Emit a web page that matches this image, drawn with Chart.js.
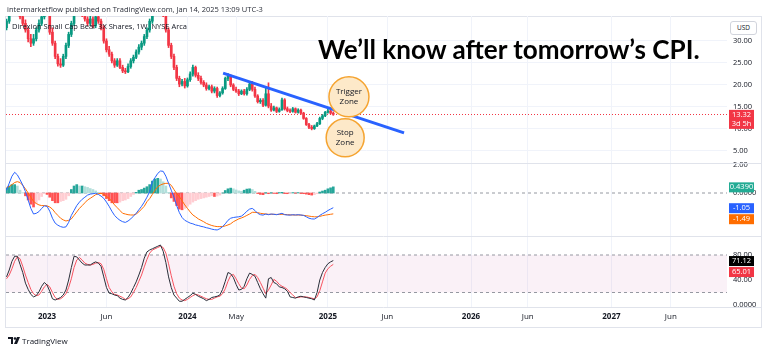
<!DOCTYPE html>
<html>
<head>
<meta charset="utf-8">
<script src="https://cdn.jsdelivr.net/npm/chart.js@4.4.0/dist/chart.umd.min.js"></script>
<style>
  html, body { margin: 0; padding: 0; background: #fff; }
  #wrap { position: relative; width: 768px; height: 349px; overflow: hidden; font-family: "Open Sans", "Noto Sans", sans-serif; }
  #frame { position: absolute; left: 5px; top: 16px; width: 757px; height: 312px; border: 1px solid #e0e3eb; box-sizing: border-box; }
  canvas { position: absolute; left: 0; top: 0; }
  .txt { position: absolute; white-space: nowrap; color: #131722; }
  #head { left: 7px; top: 4px; font-size: 7.5px; color: #2a2e39; }
  #legend { left: 12px; top: 21px; font-size: 7.5px; }
  #note { left: 318px; top: 36px; font-family: Lato, sans-serif; font-size: 26px; line-height: 26px; font-weight: 700; color: #000; transform-origin: 0 0; }
  #usd { left: 730px; top: 21px; width: 27px; height: 14px; border: 1px solid #d1d4dc; border-radius: 3px; background: #fff; font-size: 6.5px; line-height: 12px; text-align: center; box-sizing: border-box; }
  #foot { left: 8px; top: 335px; font-size: 8px; display: flex; align-items: center; gap: 2px; }
</style>
</head>
<body>
<div id="wrap">
  <div id="frame"></div>
  <canvas id="chart" width="768" height="349"></canvas>
  <div class="txt" id="head">intermarketflow published on TradingView.com, Jan 14, 2025 13:09 UTC-3</div>
  <div class="txt" id="legend">Direxion Small Cap Bear 3X Shares, 1W, NYSE Arca</div>
  <div class="txt" id="note">We’ll know after tomorrow’s CPI.</div>
  <div class="txt" id="usd">USD</div>
  <div class="txt" id="foot">
    <svg width="12" height="8" viewBox="0 0 12 8"><path d="M0 0h5v7H3V2H0z" fill="#131722"/><circle cx="7" cy="1.5" r="1.3" fill="#131722"/><path d="M9 0h3L9 7H6z" fill="#131722"/></svg>
    <span>TradingView</span>
  </div>
</div>
<script>
// weekly bars, week 0 = 19 Sep 2022
const tickWeeks = [15, 37, 67, 85, 119, 141, 172, 193, 224, 246];
const tickLabels = ['2023', 'Jun', '2024', 'May', '2025', 'Jun', '2026', 'Jun', '2027', 'Jun'];
const priceTicks = [5, 10, 15, 20, 25, 30];
const macdTicks = [0, 2];
const stochTicks = [0, 40, 80];

const opens = [
  33.0, 34.5, 37.5, 40.5, 38.0, 39.5, 35.5, 34.0, 32.5, 30.5,
  29.5, 30.5, 32.5, 34.0, 35.5, 37.5, 36.5, 32.0, 29.5, 26.5,
  24.8, 24.5, 26.5, 29.0, 31.5, 34.0, 36.5, 38.5, 37.0, 36.0,
  35.0, 34.0, 35.0, 33.5, 35.5, 34.5, 33.0, 30.0, 28.0, 27.0,
  25.5, 24.5, 25.5, 24.0, 23.2, 23.0, 24.2, 25.5, 26.3, 27.5,
  28.6, 29.5, 31.0, 32.5, 34.5, 36.5, 38.5, 40.0, 38.0, 36.0,
  32.5, 29.0, 26.5, 24.0, 21.5, 20.2, 20.8, 19.8, 21.2, 22.5,
  24.0, 22.2, 21.5, 20.6, 20.0, 19.2, 19.6, 18.6, 19.2, 17.6,
  18.2, 19.2, 21.5, 22.0, 20.0, 19.0, 18.6, 18.0, 18.6, 18.0,
  19.0, 20.2, 19.0, 17.5, 16.2, 16.5, 15.4, 18.0, 15.2, 14.3,
  14.8, 14.0, 14.4, 16.6, 14.6, 14.2, 14.0, 14.6, 13.8, 14.3,
  13.6, 12.4, 11.0, 10.4, 10.1, 10.7, 11.2, 12.4, 13.0, 13.8,
  14.1, 13.6
];
const highs = [
  35.0, 38.5, 41.5, 41.0, 40.5, 40.0, 36.5, 34.8, 33.0, 31.5,
  31.5, 33.0, 34.8, 36.2, 38.0, 38.5, 37.0, 33.0, 30.0, 27.0,
  26.0, 27.0, 29.5, 32.0, 34.5, 37.0, 39.5, 39.0, 37.8, 36.5,
  35.5, 35.8, 35.5, 36.0, 36.5, 35.0, 33.5, 30.5, 28.8, 27.5,
  26.0, 26.0, 26.0, 24.5, 23.8, 24.8, 26.0, 26.8, 28.0, 29.2,
  30.0, 31.5, 33.0, 35.0, 37.0, 39.0, 41.0, 40.5, 38.5, 36.5,
  33.0, 29.5, 27.0, 24.5, 22.0, 21.3, 21.5, 21.6, 23.0, 24.5,
  24.3, 22.8, 22.0, 21.0, 20.5, 20.0, 20.0, 19.6, 19.5, 18.5,
  19.6, 21.8, 22.6, 22.3, 20.3, 19.5, 19.0, 18.9, 19.0, 19.4,
  20.5, 20.8, 19.5, 17.8, 16.9, 16.9, 19.5, 20.5, 15.8, 15.2,
  15.0, 14.8, 17.0, 16.9, 15.0, 14.6, 14.9, 14.8, 14.6, 14.5,
  13.8, 12.6, 11.3, 10.8, 10.9, 11.5, 12.7, 13.3, 14.0, 14.5,
  14.5, 13.9
];
const lows = [
  32.5, 34.0, 37.0, 37.5, 37.5, 35.0, 33.5, 32.0, 29.8, 28.7,
  29.0, 30.0, 32.0, 33.5, 35.0, 36.0, 31.5, 29.0, 26.0, 24.3,
  24.0, 24.2, 26.0, 28.5, 31.0, 33.5, 36.0, 36.5, 35.5, 34.5,
  33.5, 33.5, 33.0, 33.0, 34.0, 32.5, 29.5, 27.5, 26.5, 25.0,
  24.0, 24.2, 23.7, 22.8, 22.6, 22.8, 23.8, 25.0, 26.0, 27.0,
  28.0, 29.0, 30.5, 32.0, 34.0, 36.0, 38.0, 37.5, 35.5, 32.0,
  28.5, 26.0, 23.5, 21.0, 19.6, 19.8, 19.3, 19.5, 20.8, 22.0,
  21.8, 21.0, 20.2, 19.6, 18.8, 18.9, 18.2, 18.2, 17.2, 17.3,
  17.9, 19.0, 21.0, 19.6, 18.7, 18.3, 17.6, 17.8, 17.7, 17.7,
  18.7, 18.6, 17.2, 15.9, 15.8, 15.1, 15.2, 14.8, 14.0, 14.1,
  13.7, 13.8, 14.2, 14.3, 13.9, 13.7, 13.8, 13.6, 13.6, 13.3,
  12.2, 10.8, 10.1, 9.8, 9.9, 10.5, 11.0, 12.1, 12.8, 13.6,
  13.4, 13.1
];
const closes = [
  34.5, 37.5, 40.5, 38.0, 39.5, 35.5, 34.0, 32.5, 30.5, 29.5,
  30.5, 32.5, 34.0, 35.5, 37.5, 36.5, 32.0, 29.5, 26.5, 24.8,
  24.5, 26.5, 29.0, 31.5, 34.0, 36.5, 38.5, 37.0, 36.0, 35.0,
  34.0, 35.0, 33.5, 35.5, 34.5, 33.0, 30.0, 28.0, 27.0, 25.5,
  24.5, 25.5, 24.0, 23.2, 23.0, 24.2, 25.5, 26.3, 27.5, 28.6,
  29.5, 31.0, 32.5, 34.5, 36.5, 38.5, 40.0, 38.0, 36.0, 32.5,
  29.0, 26.5, 24.0, 21.5, 20.2, 20.8, 19.8, 21.2, 22.5, 24.0,
  22.2, 21.5, 20.6, 20.0, 19.2, 19.6, 18.6, 19.2, 17.6, 18.2,
  19.2, 21.5, 22.0, 20.0, 19.0, 18.6, 18.0, 18.6, 18.0, 19.0,
  20.2, 19.0, 17.5, 16.2, 16.5, 15.4, 18.0, 15.2, 14.3, 14.8,
  14.0, 14.4, 16.6, 14.6, 14.2, 14.0, 14.6, 13.8, 14.3, 13.6,
  12.4, 11.0, 10.4, 10.1, 10.7, 11.2, 12.4, 13.0, 13.8, 14.1,
  13.6, 13.32
];

const macdLine = [
  0.2, 0.7, 1.2, 1.48, 1.3, 0.95, 0.57, 0.1, -0.5, -1.1,
  -1.5, -1.45, -1.33, -1.1, -0.92, -0.95, -1.3, -1.8, -2.15, -2.3,
  -2.4, -2.45, -2.42, -2.1, -1.6, -1.25, -0.9, -0.65, -0.45, -0.3,
  -0.15, -0.08, -0.05, -0.02, -0.1, -0.22, -0.38, -0.65, -0.95, -1.3,
  -1.6, -1.8, -1.95, -2.05, -2.1, -2.0, -1.85, -1.65, -1.45, -1.2,
  -0.95, -0.65, -0.3, 0.1, 0.8, 1.1, 1.4, 1.57, 1.55, 1.2,
  0.7, 0.2, -0.3, -0.9, -1.4, -1.75, -1.95, -2.05, -2.15, -2.2,
  -2.28, -2.32, -2.38, -2.42, -2.48, -2.52, -2.58, -2.62, -2.64, -2.55,
  -2.4, -2.2, -1.95, -1.8, -1.75, -1.72, -1.7, -1.65, -1.5, -1.3,
  -1.15, -1.1, -1.25, -1.45, -1.55, -1.58, -1.5, -1.55, -1.5, -1.52,
  -1.55, -1.5, -1.45, -1.55, -1.57, -1.58, -1.55, -1.57, -1.55, -1.57,
  -1.6, -1.7, -1.8, -1.85, -1.86, -1.75, -1.6, -1.48, -1.38, -1.25,
  -1.15, -1.05
];
const signalLine = [
  0.4, 0.45, 0.6, 0.75, 0.81, 0.75, 0.55, 0.3, 0.0, -0.3,
  -0.6, -0.75, -0.85, -0.9, -0.9, -0.92, -1.0, -1.15, -1.4, -1.6,
  -1.8, -1.92, -2.0, -1.95, -1.85, -1.6, -1.35, -1.1, -0.9, -0.7,
  -0.5, -0.38, -0.25, -0.12, -0.05, -0.02, -0.1, -0.25, -0.38, -0.6,
  -0.85, -1.05, -1.25, -1.45, -1.5, -1.55, -1.57, -1.57, -1.5, -1.35,
  -1.15, -0.95, -0.62, -0.4, -0.1, 0.2, 0.45, 0.57, 0.65, 0.69,
  0.69, 0.55, 0.25, -0.05, -0.26, -0.55, -0.85, -1.1, -1.35, -1.57,
  -1.7, -1.85, -1.95, -2.05, -2.17, -2.25, -2.32, -2.37, -2.4, -2.4,
  -2.4, -2.35, -2.28, -2.2, -2.05, -1.95, -1.85, -1.78, -1.7, -1.6,
  -1.5, -1.38, -1.38, -1.4, -1.45, -1.48, -1.5, -1.52, -1.52, -1.52,
  -1.53, -1.53, -1.52, -1.53, -1.55, -1.56, -1.57, -1.57, -1.57, -1.58,
  -1.6, -1.62, -1.65, -1.68, -1.7, -1.7, -1.67, -1.62, -1.58, -1.55,
  -1.52, -1.49
];
const macdHist = [
  0.35, 0.5, 0.6, 0.6, 0.5, 0.2, 0.02, -0.2, -0.5, -0.8,
  -1.0, -0.75, -0.5, -0.25, -0.05, -0.1, -0.3, -0.55, -0.7, -0.7,
  -0.6, -0.55, -0.45, -0.2, 0.25, 0.5, 0.6, 0.5, 0.5, 0.45,
  0.4, 0.32, 0.25, 0.15, 0.05, -0.05, -0.2, -0.4, -0.55, -0.7,
  -0.7, -0.7, -0.65, -0.55, -0.5, -0.4, -0.25, -0.1, 0.05, 0.2,
  0.25, 0.35, 0.45, 0.6, 0.85, 1.0, 1.05, 1.0, 0.8, 0.5,
  0.05, -0.35, -0.6, -0.9, -1.15, -1.2, -1.1, -0.95, -0.8, -0.65,
  -0.55, -0.45, -0.4, -0.35, -0.3, -0.25, -0.2, -0.25, -0.22, -0.15,
  0.0, 0.18, 0.3, 0.35, 0.3, 0.22, 0.15, 0.12, 0.2, 0.28,
  0.3, 0.25, 0.12, -0.04, -0.1, -0.12, 0.02, -0.05, 0.02, -0.03,
  -0.05, 0.03, 0.05, -0.04, -0.05, -0.04, 0.03, -0.02, 0.03, -0.04,
  -0.05, -0.08, -0.12, -0.15, -0.12, -0.05, 0.07, 0.14, 0.2, 0.3,
  0.37, 0.439
];

const stochK = [
  45, 56, 70, 78, 78, 65, 52, 35, 25, 17,
  13, 15, 21, 30, 36, 32, 22, 10, 8, 10,
  12, 16, 24, 40, 60, 78, 77, 72, 67, 64,
  64, 64, 67, 69, 67, 62, 45, 28, 19, 18,
  16, 15, 11, 9, 8, 12, 19, 28, 37, 48,
  60, 75, 85, 88, 90, 92, 94, 96, 86, 68,
  45, 28, 16, 11, 6, 6, 9, 12, 15, 19,
  17, 14, 12, 10, 7, 9, 12, 13, 14, 16,
  25, 38, 52, 50, 44, 33, 24, 25, 30, 42,
  51, 49, 46, 36, 26, 18, 11, 42, 44, 36,
  34, 29, 28, 26, 22, 13, 12, 11, 13, 14,
  13, 12, 11, 10, 8, 20, 40, 52, 60, 66,
  69, 71.12
];
const stochD = [
  42, 48, 58, 70, 77, 74, 62, 48, 36, 25,
  18, 15, 16, 22, 29, 33, 29, 20, 12, 9,
  10, 13, 18, 28, 42, 60, 72, 76, 72, 67,
  65, 64, 65, 67, 68, 66, 57, 42, 28, 21,
  17, 16, 14, 12, 9, 10, 13, 20, 28, 38,
  48, 61, 73, 83, 88, 90, 92, 94, 92, 83,
  66, 47, 30, 18, 11, 8, 7, 9, 12, 15,
  17, 16, 14, 12, 10, 9, 9, 11, 13, 14,
  18, 26, 38, 47, 49, 42, 34, 27, 26, 32,
  41, 47, 49, 44, 36, 27, 18, 24, 32, 41,
  38, 33, 30, 28, 25, 20, 16, 12, 12, 13,
  13, 13, 12, 11, 10, 13, 23, 37, 51, 58,
  62, 65.01
];
const stochBands = [80, 20];

// drawn annotations, in week / price units
const trendWeeks = [80.2, 147.2];
const trendPrices = [22.7, 9.1];
const zoneWeeks = [126.8, 125.4];
const zonePrices = [17.3, 8.0];
const zoneRadius = [20, 19];
const zoneLabels = [['Trigger', 'Zone'], ['Stop', 'Zone']];
const countdown = '3d 5h';

const xMin = -0.2, xMax = 266.8;
const UP = '#089981', DOWN = '#f23645';

const candleColors = closes.map((c, i) => c >= opens[i] ? UP : DOWN);
const histColors = macdHist.map((h, i) => {
  const prev = i > 0 ? macdHist[i - 1] : 0;
  if (h >= 0) return h >= prev ? '#26a69a' : '#b2dfdb';
  return h > prev ? '#ffcdd2' : '#ff5252';
});
const series = arr => arr.map((v, i) => ({ x: i, y: v }));
const flat = v => [{ x: xMin, y: v }, { x: xMax, y: v }];

Chart.defaults.font.family = '"Open Sans", sans-serif';
Chart.defaults.color = '#131722';

function drawTags(ctx, scale, tags) {
  const lh = 9, x = 729, w = 25;
  const items = tags.map(t => ({ ...t, y: scale.getPixelForValue(t.value) })).sort((a, b) => a.y - b.y);
  let prevBottom = -Infinity;
  ctx.font = '7.5px "Open Sans"';
  ctx.textAlign = 'center';
  ctx.textBaseline = 'middle';
  items.forEach(t => {
    let top = t.y - lh / 2;
    if (top < prevBottom + 1) top = prevBottom + 1;
    const h = lh * t.lines.length + 1;
    ctx.fillStyle = t.bg;
    ctx.fillRect(x, top, w, h);
    ctx.fillStyle = '#fff';
    t.lines.forEach((s, k) => ctx.fillText(s, x + w / 2, top + lh / 2 + 0.5 + k * lh));
    prevBottom = top + h;
  });
}

const paneDecor = {
  id: 'paneDecor',
  beforeDatasetsDraw(chart) {
    const { ctx, chartArea, scales } = chart;
    const y = Math.round(scales.price.getPixelForValue(closes[closes.length - 1])) + 0.5;
    ctx.save();
    ctx.strokeStyle = DOWN;
    ctx.lineWidth = 1;
    ctx.setLineDash([1, 2]);
    ctx.beginPath();
    ctx.moveTo(chartArea.left, y);
    ctx.lineTo(chartArea.right, y);
    ctx.stroke();
    ctx.restore();
  },
  afterDatasetsDraw(chart) {
    const { ctx } = chart;
    const meta = chart.getDatasetMeta(0);
    ctx.save();
    ctx.fillStyle = '#131722';
    ctx.font = '8px "Open Sans"';
    ctx.textAlign = 'center';
    ctx.textBaseline = 'middle';
    meta.data.forEach((el, i) => {
      ctx.fillText(zoneLabels[i][0], el.x, el.y - 5);
      ctx.fillText(zoneLabels[i][1], el.x, el.y + 5);
    });
    ctx.restore();
  },
  afterDraw(chart) {
    const { ctx, chartArea, scales } = chart;
    ctx.save();
    ctx.strokeStyle = '#e0e3eb';
    ctx.lineWidth = 1;
    [scales.price.bottom, scales.macd.bottom, scales.stoch.bottom].forEach(b => {
      const y = Math.round(b) + 0.5;
      ctx.beginPath();
      ctx.moveTo(chartArea.left, y);
      ctx.lineTo(761, y);
      ctx.stroke();
    });
    const last = closes.length - 1;
    drawTags(ctx, scales.price, [{ value: closes[last], lines: [closes[last].toFixed(2), countdown], bg: DOWN }]);
    drawTags(ctx, scales.macd, [
      { value: macdHist[last], lines: [macdHist[last].toFixed(4)], bg: '#22ab94' },
      { value: macdLine[last], lines: [macdLine[last].toFixed(2)], bg: '#2962ff' },
      { value: signalLine[last], lines: [signalLine[last].toFixed(2)], bg: '#ff6d00' }
    ]);
    drawTags(ctx, scales.stoch, [
      { value: stochK[last], lines: [stochK[last].toFixed(2)], bg: '#000000' },
      { value: stochD[last], lines: [stochD[last].toFixed(2)], bg: '#f23645' }
    ]);
    ctx.restore();
  }
};

function rightAxis(min, max, weight, ticks, fmt, grid) {
  return {
    type: 'linear', position: 'right', stack: 'panes', stackWeight: weight,
    min: min, max: max,
    afterBuildTicks: s => { s.ticks = ticks.map(v => ({ value: v })); },
    afterFit: s => { s.width = 35; },
    ticks: { padding: 6, font: { size: 7.5 }, color: '#131722', callback: fmt },
    grid: { display: grid, color: '#f0f3fa', drawTicks: false },
    border: { display: false }
  };
}

new Chart(document.getElementById('chart'), {
  type: 'bar',
  data: {
    datasets: [
      { type: 'bubble', label: 'zones', yAxisID: 'price',
        data: zoneWeeks.map((w, i) => ({ x: w, y: zonePrices[i], r: zoneRadius[i] })),
        backgroundColor: '#fde9c9', borderColor: '#f5a431', borderWidth: 1.5, hoverRadius: 0 },
      { type: 'line', label: 'trend', yAxisID: 'price',
        data: trendWeeks.map((w, i) => ({ x: w, y: trendPrices[i] })),
        borderColor: '#2962ff', borderWidth: 3, pointRadius: 0 },
      { label: 'bodies', yAxisID: 'price', grouped: false, barThickness: 2, minBarLength: 1,
        data: opens.map((o, i) => ({ x: i, y: [o, closes[i]] })), backgroundColor: candleColors },
      { label: 'wicks', yAxisID: 'price', grouped: false, barThickness: 1,
        data: lows.map((l, i) => ({ x: i, y: [l, highs[i]] })), backgroundColor: candleColors },
      { type: 'line', label: '%K', yAxisID: 'stoch', data: series(stochK),
        borderColor: '#2a2e39', borderWidth: 1, pointRadius: 0 },
      { type: 'line', label: '%D', yAxisID: 'stoch', data: series(stochD),
        borderColor: '#f7525f', borderWidth: 1, pointRadius: 0 },
      { type: 'line', label: 'MACD', yAxisID: 'macd', data: series(macdLine),
        borderColor: '#2962ff', borderWidth: 1, pointRadius: 0 },
      { type: 'line', label: 'Signal', yAxisID: 'macd', data: series(signalLine),
        borderColor: '#ff6d00', borderWidth: 1, pointRadius: 0 },
      { label: 'Histogram', yAxisID: 'macd', grouped: false, barThickness: 2,
        data: series(macdHist), backgroundColor: histColors },
      { type: 'line', label: 'zero', yAxisID: 'macd', data: flat(0),
        borderColor: '#9598a1', borderWidth: 1, borderDash: [3, 3], pointRadius: 0 },
      { type: 'line', label: 'upper', yAxisID: 'stoch', data: flat(stochBands[0]),
        borderColor: '#9598a1', borderWidth: 1, borderDash: [3, 3], pointRadius: 0, fill: false },
      { type: 'line', label: 'lower', yAxisID: 'stoch', data: flat(stochBands[1]),
        borderColor: '#9598a1', borderWidth: 1, borderDash: [3, 3], pointRadius: 0,
        fill: '-1', backgroundColor: 'rgba(200, 100, 170, 0.09)' }
    ]
  },
  options: {
    responsive: false,
    animation: false,
    events: [],
    layout: { autoPadding: false, padding: { left: 6, top: 16, right: 6, bottom: 22 } },
    plugins: { legend: { display: false }, tooltip: { enabled: false } },
    scales: {
      x: {
        type: 'linear', position: 'bottom', min: xMin, max: xMax, offset: false,
        afterBuildTicks: s => { s.ticks = tickWeeks.map(v => ({ value: v })); },
        afterFit: s => { s.height = 20; },
        ticks: {
          maxRotation: 0, autoSkip: false, padding: 5, color: '#131722',
          callback: v => { const k = tickWeeks.indexOf(v); return k >= 0 ? tickLabels[k] : ''; },
          font: c => {
            const k = c.tick ? tickWeeks.indexOf(c.tick.value) : -1;
            return { size: 8, weight: k >= 0 && /^\d{4}$/.test(tickLabels[k]) ? 'bold' : 'normal' };
          }
        },
        grid: { color: '#f0f3fa', drawTicks: false, offset: false },
        border: { display: false }
      },
      price: rightAxis(2.27, 35.68, 147, priceTicks, v => v.toFixed(2), true),
      macd: rightAxis(-3.071, 2.143, 73, macdTicks, v => v === 0 ? '0.0000' : v.toFixed(2), false),
      stoch: rightAxis(-3.2, 110.4, 71, stochTicks, v => v === 0 ? '0.0000' : v.toFixed(2), false)
    }
  },
  plugins: [paneDecor]
});

// squeeze the headline to the width it has in the picture
const note = document.getElementById('note');
note.style.transform = 'scaleX(' + (382 / note.offsetWidth) + ')';
</script>
</body>
</html>
